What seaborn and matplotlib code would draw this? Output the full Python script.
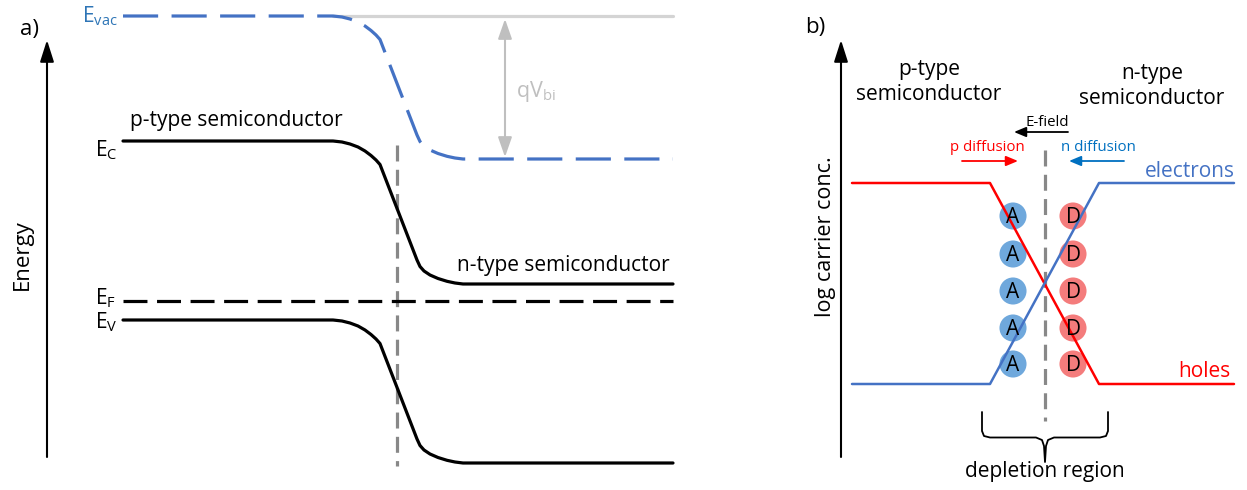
import matplotlib
matplotlib.use("Agg")
import matplotlib.pyplot as plt
import seaborn as sns
import numpy as np
import pandas as pd

sns.set_theme(style="white")
FONT = ["Open Sans", "DejaVu Sans"]
plt.rcParams["font.family"] = FONT
plt.rcParams["text.color"] = "black"
plt.rcParams["mathtext.fontset"] = "custom"
plt.rcParams["mathtext.rm"] = "Open Sans"
plt.rcParams["mathtext.it"] = "Open Sans:italic"

# ---- panel a: band diagram (pixel-like coordinates, y grows downward) ----
# shape of the band bending across the junction: position and downward shift
bend_x = [123, 333, 342, 350, 358, 365, 371, 376, 380, 417, 420, 424, 430, 438,
          447, 455, 463, 673]
bend_shift = [0, 0, 1, 3, 6, 10, 14.5, 19, 23.5, 119, 125.5, 130, 134, 137.5,
              140.3, 142, 143, 143]

level_vac = 16     # vacuum level on the p side
level_c = 141      # conduction band edge on the p side
level_v = 320      # valence band edge on the p side
level_f = 301      # Fermi level (flat)
junction_x = 397

# ---- panel b: carrier concentration profile ----
carrier_x = [852, 990, 1099, 1234]
holes_y = [183, 183, 384, 384]
electrons_y = [384, 384, 183, 183]

ion_y = [216, 254, 291, 328, 364]
acceptor_x = 1013
donor_x = 1073

BLUE = "#4472C4"
RED = "#FF0000"

fig = plt.figure(figsize=(12.47, 4.90), dpi=100)
ax = fig.add_axes([0, 0, 1, 1])
ax.set_xlim(0, 1247)
ax.set_ylim(490, 0)
ax.axis("off")

def arrow(x0, y0, x1, y1, color, lw=1.5, hw=0.5, hl=1.0):
    ax.annotate("", xy=(x1, y1), xytext=(x0, y0),
                arrowprops=dict(arrowstyle=f"-|>,head_width={hw},head_length={hl}",
                                color=color, lw=lw, shrinkA=0, shrinkB=0))

# axes arrows
arrow(47, 457, 47, 40, "black", lw=1.5, hw=0.35, hl=1.1)
arrow(841, 457, 841, 40, "black", lw=1.5, hw=0.35, hl=1.1)

# vacuum reference (undisturbed) and built-in potential arrow
ax.plot([333, 673], [level_vac, level_vac], color="#d4d4d4", lw=2.3, zorder=1)
ax.annotate("", xy=(505, 19), xytext=(505, 157),
            arrowprops=dict(arrowstyle="<|-|>,head_width=0.35,head_length=1.0",
                            color="#bfbfbf", lw=1.5, shrinkA=0, shrinkB=0))
ax.text(516, 92, r"qV$_\mathrm{bi}$", color="#bfbfbf", fontsize=15.5, va="center", ha="left")

bx = np.array(bend_x)
bs = np.array(bend_shift)
bands = pd.DataFrame({"x": np.concatenate([bx, bx, bx]),
                      "E": np.concatenate([level_vac + bs, level_c + bs, level_v + bs]),
                      "band": ["vac"] * len(bx) + ["c"] * len(bx) + ["v"] * len(bx)})

sns.lineplot(data=bands[bands.band == "vac"], x="x", y="E", color=BLUE, lw=2.3,
             ax=ax, zorder=3, sort=False, estimator=None)
ax.lines[-1].set_dashes([11, 4.2])
ax.lines[-1].set_dash_capstyle("butt")
for b in ["c", "v"]:
    sns.lineplot(data=bands[bands.band == b], x="x", y="E", color="black", lw=2.3,
                 ax=ax, zorder=3, sort=False, estimator=None)
    ax.lines[-1].set_solid_joinstyle("round")

# Fermi level
sns.lineplot(x=[123, 673], y=[level_f, level_f], color="black", lw=2.3, ax=ax, zorder=3)
ax.lines[-1].set_dashes([7.5, 3])
# junction position
sns.lineplot(x=[junction_x, junction_x], y=[145, 466], color="#888888", lw=2.3, ax=ax,
             zorder=2, estimator=None, sort=False)
ax.lines[-1].set_dashes([5, 2.6])

ax.text(20, 30, "a)", fontsize=16, va="center", ha="left")
ax.text(22, 255, "Energy", fontsize=16, rotation=90, va="center", ha="center")
ax.text(118, 16, r"E$_\mathrm{vac}$", color="#2E75B6", fontsize=15, va="center", ha="right")
ax.text(118, 150, r"E$_\mathrm{C}$", fontsize=15, va="center", ha="right")
ax.text(116, 298, r"E$_\mathrm{F}$", fontsize=15, va="center", ha="right")
ax.text(118, 322, r"E$_\mathrm{V}$", fontsize=15, va="center", ha="right")
ax.text(130, 120, "p-type semiconductor", fontsize=15, va="center", ha="left")
ax.text(670, 265, "n-type semiconductor", fontsize=15, va="center", ha="right")

# ---- panel b ----
ax.text(805, 28, "b)", fontsize=16, va="center", ha="left")
ax.text(825, 237, "log carrier conc.", fontsize=15.5, rotation=90, va="center", ha="center")
ax.text(929, 82, "p-type\nsemiconductor", fontsize=15, va="center", ha="center",
        linespacing=1.3)
ax.text(1152, 86, "n-type\nsemiconductor", fontsize=15, va="center", ha="center",
        linespacing=1.3)

sns.lineplot(x=[1045, 1045], y=[150, 421], color="#888888", lw=2.3, ax=ax, zorder=2,
             estimator=None, sort=False)
ax.lines[-1].set_dashes([5, 2.6])

ions = pd.DataFrame({"x": [acceptor_x] * len(ion_y) + [donor_x] * len(ion_y),
                     "y": ion_y + ion_y,
                     "kind": ["A"] * len(ion_y) + ["D"] * len(ion_y)})
sns.scatterplot(data=ions, x="x", y="y", hue="kind",
                palette={"A": "#6FA8DC", "D": "#F47C7C"}, s=380, edgecolor="none",
                ax=ax, zorder=3, legend=False)
for _, r in ions.iterrows():
    ax.text(r.x, r.y + 1, r.kind, fontsize=15, ha="center", va="center", zorder=5)

sns.lineplot(x=carrier_x, y=holes_y, color=RED, lw=1.8, ax=ax, zorder=4,
             estimator=None, sort=False)
sns.lineplot(x=carrier_x, y=electrons_y, color=BLUE, lw=1.8, ax=ax, zorder=4,
             estimator=None, sort=False)
ax.text(1235, 171, "electrons", color=BLUE, fontsize=15, ha="right", va="center")
ax.text(1231, 371, "holes", color=RED, fontsize=15, ha="right", va="center")

ax.text(1047, 122, "E-field", fontsize=10.8, ha="center", va="center")
arrow(1068, 132, 1014, 132, "black", lw=1.3, hw=0.25, hl=0.6)
ax.text(987, 147, "p diffusion", color=RED, fontsize=10.8, ha="center", va="center")
arrow(962, 161, 1018, 161, RED, lw=1.3, hw=0.25, hl=0.6)
ax.text(1098, 147, "n diffusion", color="#0070C0", fontsize=10.8, ha="center", va="center")
arrow(1124, 161, 1069, 161, "#0070C0", lw=1.3, hw=0.25, hl=0.6)

# brace under the depletion region
brace_x = [982, 982, 984, 990, 1036, 1042, 1044, 1045, 1046, 1048, 1054, 1100, 1106, 1108, 1108]
brace_y = [412, 431, 436, 437.5, 437.5, 440, 446, 462, 446, 440, 437.5, 437.5, 436, 431, 412]
ax.plot(brace_x, brace_y, color="black", lw=1.3, solid_joinstyle="round")
ax.text(1045, 471, "depletion region", fontsize=15, ha="center", va="center")

fig.savefig("out.png", dpi=100)
